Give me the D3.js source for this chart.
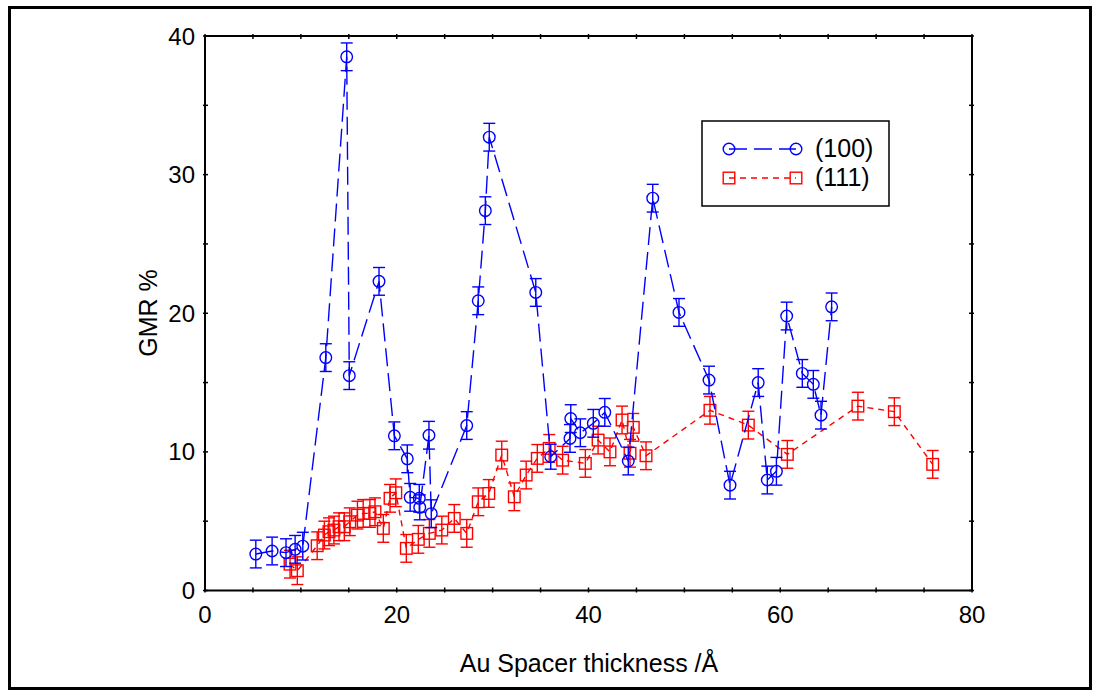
<!DOCTYPE html>
<html>
<head>
<meta charset="utf-8">
<script src="https://cdn.jsdelivr.net/npm/d3@7"></script>
<style>
  html, body { margin: 0; padding: 0; background: #fff; }
  svg { display: block; font-family: "Liberation Sans", Arial, sans-serif; }
</style>
</head>
<body>
<svg id="chart" width="1099" height="696"></svg>
<script>
// GMR vs. Au spacer thickness for (100) and (111) oriented multilayers
const thick100 = [5.3, 7.0, 8.45, 9.4, 10.2, 12.6, 14.78, 15.05, 18.15, 19.75, 21.1, 21.4, 22.35, 22.4, 23.36, 23.6, 27.3, 28.5, 29.24, 29.65, 34.5, 36.06, 38.07, 38.15, 39.15, 40.5, 41.7, 44.15, 46.7, 49.44, 52.57, 54.76, 57.7, 58.65, 59.6, 60.67, 62.3, 63.45, 64.25, 65.36];
const gmr100 = [2.63, 2.85, 2.73, 2.97, 3.2, 16.8, 38.5, 15.5, 22.3, 11.16, 9.5, 6.72, 6.65, 6.0, 11.2, 5.54, 11.9, 20.9, 27.4, 32.7, 21.5, 9.65, 10.97, 12.4, 11.38, 12.06, 12.85, 9.34, 28.3, 20.06, 15.18, 7.6, 15.0, 7.97, 8.6, 19.8, 15.66, 14.87, 12.65, 20.46];
const err100 = [1.0, 1.0, 1.0, 1.0, 1.0, 1.0, 1.0, 1.0, 1.0, 1.0, 1.0, 1.0, 1.0, 0.9, 1.0, 1.0, 1.0, 1.0, 1.0, 1.0, 1.0, 0.9, 1.0, 1.0, 1.0, 1.0, 1.0, 1.0, 1.0, 1.0, 1.0, 1.0, 1.0, 1.0, 1.0, 1.0, 1.0, 1.0, 1.0, 1.0];

const thick111 = [8.87, 9.63, 11.7, 12.45, 12.93, 13.45, 13.98, 14.53, 15.1, 15.9, 16.5, 17.2, 17.73, 18.6, 19.3, 19.9, 21.0, 22.25, 23.4, 24.7, 26.0, 27.3, 28.5, 29.6, 30.95, 32.26, 33.5, 34.66, 35.9, 37.3, 39.67, 41.0, 42.24, 43.5, 44.33, 44.67, 46.0, 52.67, 56.67, 60.74, 68.1, 71.9, 75.9];
const gmr111 = [1.9, 1.43, 3.23, 4.0, 4.24, 4.36, 4.6, 4.6, 4.96, 5.44, 5.56, 5.56, 5.68, 4.48, 6.65, 7.05, 3.04, 3.69, 4.12, 4.36, 5.2, 4.12, 6.4, 7.0, 9.77, 6.76, 8.33, 9.53, 10.25, 9.4, 9.17, 10.85, 10.0, 12.3, 9.9, 11.77, 9.72, 13.0, 11.93, 9.82, 13.3, 12.9, 9.1];
const err111 = [1.0, 1.0, 1.0, 1.0, 1.0, 1.0, 1.0, 1.0, 1.0, 1.0, 1.0, 1.0, 1.0, 1.0, 1.0, 1.0, 1.0, 1.0, 1.0, 1.0, 1.0, 1.0, 1.0, 1.0, 1.0, 1.0, 1.0, 1.0, 1.0, 1.0, 1.0, 1.0, 1.0, 1.0, 1.0, 1.0, 1.0, 1.0, 1.0, 1.0, 1.0, 1.0, 1.0];

const xTicks = [0, 20, 40, 60, 80];
const yTicks = [0, 10, 20, 30, 40];
const seriesNames = ["(100)", "(111)"];

const svg = d3.select("#chart");

// outer frame
svg.append("rect")
  .attr("x", 9.5).attr("y", 7.5).attr("width", 1081).attr("height", 681)
  .attr("fill", "none").attr("stroke", "#000").attr("stroke-width", 3);

const plot = { left: 205, right: 972, top: 36, bottom: 590.5 };
const x = d3.scaleLinear().domain([0, 80]).range([plot.left, plot.right]);
const y = d3.scaleLinear().domain([0, 40]).range([plot.bottom, plot.top]);

// plot box
svg.append("rect")
  .attr("x", plot.left).attr("y", plot.top)
  .attr("width", plot.right - plot.left).attr("height", plot.bottom - plot.top)
  .attr("fill", "none").attr("stroke", "#000").attr("stroke-width", 2);

// minor ticks on all four sides
const minorX = d3.range(0, 81, 5);
const minorY = d3.range(0, 41, 5);
const tickG = svg.append("g").attr("stroke", "#000").attr("stroke-width", 1.5);
minorX.forEach(v => {
  tickG.append("line").attr("x1", x(v)).attr("x2", x(v)).attr("y1", plot.bottom - 3).attr("y2", plot.bottom + 2);
  tickG.append("line").attr("x1", x(v)).attr("x2", x(v)).attr("y1", plot.top - 2).attr("y2", plot.top + 3);
});
minorY.forEach(v => {
  tickG.append("line").attr("y1", y(v)).attr("y2", y(v)).attr("x1", plot.left - 2).attr("x2", plot.left + 3);
  tickG.append("line").attr("y1", y(v)).attr("y2", y(v)).attr("x1", plot.right - 3).attr("x2", plot.right + 2);
});

// tick labels
svg.append("g").selectAll("text").data(xTicks).join("text")
  .attr("x", d => x(d)).attr("y", 623)
  .attr("text-anchor", "middle").attr("font-size", 24).attr("fill", "#000")
  .text(d => d);
svg.append("g").selectAll("text").data(yTicks).join("text")
  .attr("x", 195).attr("y", d => y(d) + 8.5)
  .attr("text-anchor", "end").attr("font-size", 24).attr("fill", "#000")
  .text(d => d);

// axis titles
svg.append("text")
  .attr("x", 589).attr("y", 672).attr("text-anchor", "middle")
  .attr("font-size", 25).attr("fill", "#000")
  .text("Au Spacer thickness /Å");
svg.append("text")
  .attr("transform", "translate(157,313) rotate(-90)")
  .attr("text-anchor", "middle").attr("font-size", 25).attr("fill", "#000")
  .text("GMR %");

const s100 = thick100.map((t, i) => ({ t, g: gmr100[i], e: err100[i] }));
const s111 = thick111.map((t, i) => ({ t, g: gmr111[i], e: err111[i] }));

const line = d3.line().x(d => x(d.t)).y(d => y(d.g));

function drawSeries(data, color, dash, marker) {
  const g = svg.append("g");
  g.append("path").datum(data).attr("d", line)
    .attr("fill", "none").attr("stroke", color).attr("stroke-width", 1.4)
    .attr("stroke-dasharray", dash);
  // error bars with caps
  const eb = g.append("g").attr("stroke", color).attr("stroke-width", 1.4);
  data.forEach(d => {
    eb.append("line").attr("x1", x(d.t)).attr("x2", x(d.t)).attr("y1", y(d.g - d.e)).attr("y2", y(d.g + d.e));
    eb.append("line").attr("x1", x(d.t) - 6).attr("x2", x(d.t) + 6).attr("y1", y(d.g - d.e)).attr("y2", y(d.g - d.e));
    eb.append("line").attr("x1", x(d.t) - 6).attr("x2", x(d.t) + 6).attr("y1", y(d.g + d.e)).attr("y2", y(d.g + d.e));
  });
  data.forEach(d => marker(g, x(d.t), y(d.g)));
}

const circle = (g, cx, cy) => g.append("circle").attr("cx", cx).attr("cy", cy).attr("r", 5.8)
  .attr("fill", "none").attr("stroke", "#0000ff").attr("stroke-width", 1.4);
const square = (g, cx, cy) => g.append("rect").attr("x", cx - 5.8).attr("y", cy - 5.8)
  .attr("width", 11.6).attr("height", 11.6)
  .attr("fill", "none").attr("stroke", "#ff0000").attr("stroke-width", 1.4);

drawSeries(s111, "#ff0000", "6,5", square);
drawSeries(s100, "#0000ff", "18,7", circle);

// legend
const leg = svg.append("g");
leg.append("rect").attr("x", 702).attr("y", 121).attr("width", 187).attr("height", 85)
  .attr("fill", "#fff").attr("stroke", "#000").attr("stroke-width", 1.5);
const legItems = [
  { name: seriesNames[0], color: "#0000ff", dash: "18,7", marker: circle, yy: 149 },
  { name: seriesNames[1], color: "#ff0000", dash: "6,5", marker: square, yy: 178 }
];
legItems.forEach(it => {
  leg.append("line").attr("x1", 729).attr("x2", 796).attr("y1", it.yy).attr("y2", it.yy)
    .attr("stroke", it.color).attr("stroke-width", 1.4).attr("stroke-dasharray", it.dash);
  it.marker(leg, 729, it.yy);
  it.marker(leg, 796, it.yy);
  leg.append("text").attr("x", 815).attr("y", it.yy + 8).attr("font-size", 25).attr("fill", "#000").text(it.name);
});
</script>
</body>
</html>
